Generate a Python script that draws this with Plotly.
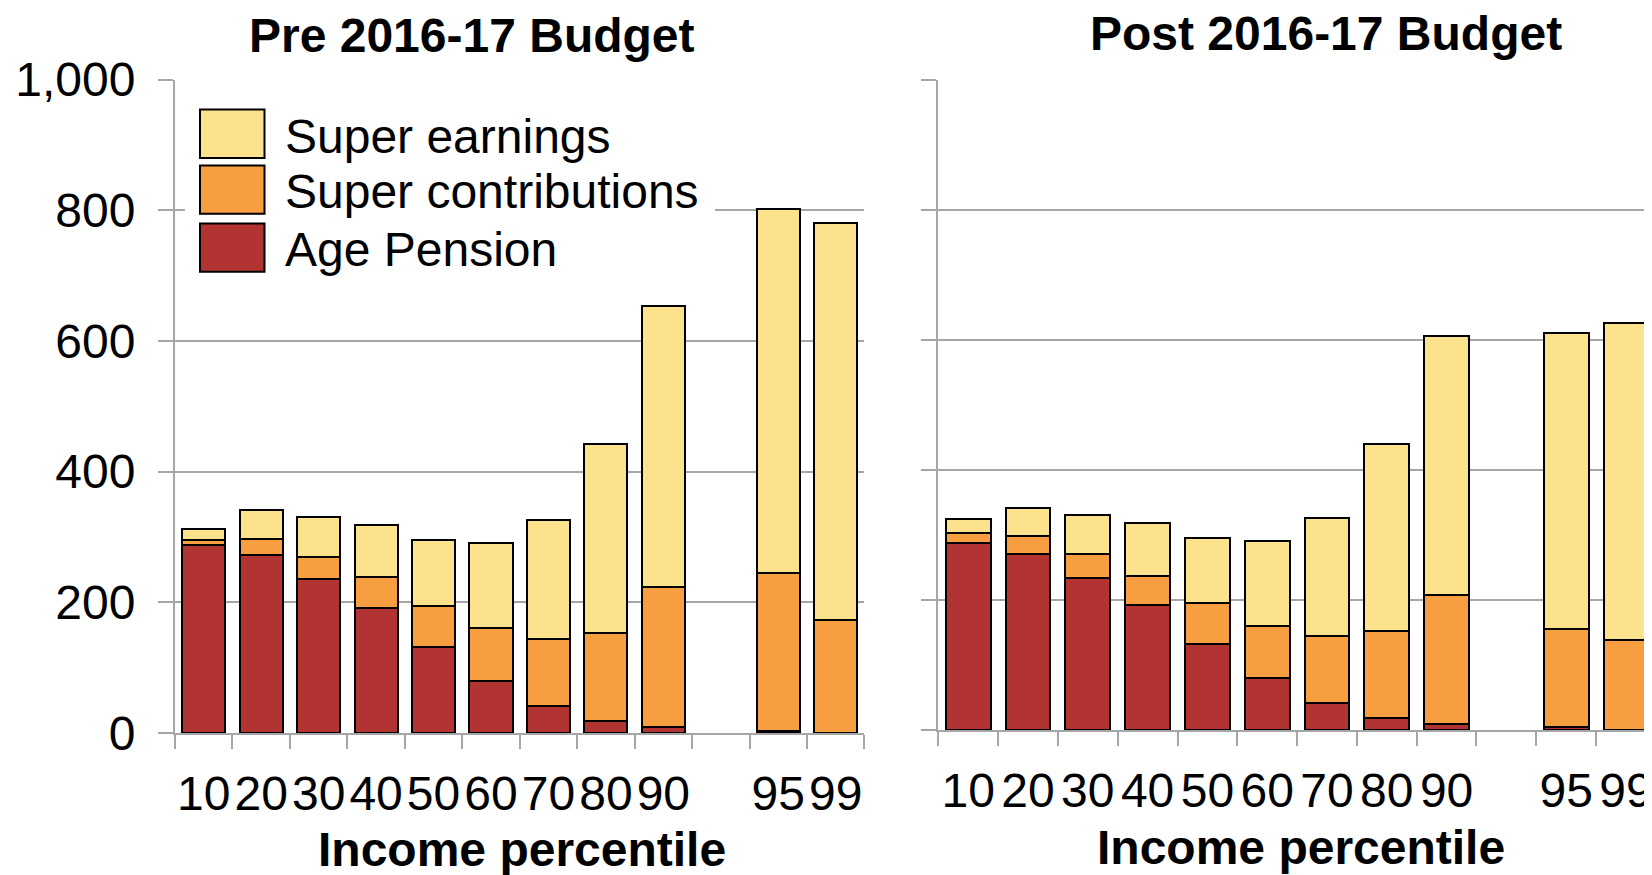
import plotly.graph_objects as go

# ---- data ----
categories = ["10", "20", "30", "40", "50", "60", "70", "80", "90", " ", "95", "99"]
series_names = ["Age Pension", "Super contributions", "Super earnings"]

pre_age_pension = [288, 272, 235, 192, 132, 80, 41, 18, 9, None, 3, 0]
pre_super_contrib = [8, 25, 35, 46, 62, 81, 103, 135, 214, None, 242, 173]
pre_super_earnings = [16, 44, 60, 80, 102, 129, 182, 289, 430, None, 557, 608]

post_age_pension = [287, 271, 234, 192, 132, 80, 42, 18, 9, None, 4, 0]
post_super_contrib = [16, 28, 37, 45, 63, 80, 103, 134, 199, None, 151, 138]
post_super_earnings = [21, 43, 59, 81, 100, 130, 181, 288, 397, None, 455, 488]

y_ticks = [0, 200, 400, 600, 800, 1000]
y_tick_labels = ["0", "200", "400", "600", "800", "1,000"]

panel_titles = ["Pre 2016-17 Budget", "Post 2016-17 Budget"]
x_title = "Income percentile"

# ---- style ----
# the page body has an 8px margin, so the figure is drawn 8px in from the window corner
OFF = 8
W, H = 1652 - OFF, 875 - OFF
FONT = "Liberation Sans, Arial, sans-serif"
colors = {"Age Pension": "#B13432", "Super contributions": "#F69E40", "Super earnings": "#FDE28E"}
GRID = "#A6A6A6"
FS = 48


def fx(px):
    return (px - OFF) / W


def fy(py):
    return 1 - (py - OFF) / H


fig = go.Figure()

for xa, ya, vals in [
    ("x", "y", [pre_age_pension, pre_super_contrib, pre_super_earnings]),
    ("x2", "y2", [post_age_pension, post_super_contrib, post_super_earnings]),
]:
    for name, v in zip(series_names, vals):
        fig.add_trace(go.Bar(
            x=categories, y=v, name=name, xaxis=xa, yaxis=ya,
            marker=dict(color=colors[name], line=dict(color="black", width=2)),
            showlegend=False,
        ))

xcommon = dict(
    type="category", categoryorder="array", categoryarray=categories,
    tickmode="linear", dtick=1, tickangle=0, automargin=False,
    tickson="boundaries", ticks="outside", ticklen=14, tickwidth=2, tickcolor=GRID,
    showline=True, linecolor=GRID, linewidth=2, showgrid=False, zeroline=False,
    tickfont=dict(family=FONT, size=FS, color="black"), ticklabelstandoff=17,
)
ycommon = dict(
    range=[0, 1000], tickvals=y_ticks, ticktext=y_tick_labels, automargin=False,
    ticks="outside", ticklen=15, tickwidth=2, tickcolor=GRID,
    showline=True, linecolor=GRID, linewidth=2,
    showgrid=True, gridcolor=GRID, gridwidth=2, zeroline=False,
    tickfont=dict(family=FONT, size=FS, color="black"),
)

fig.update_layout(
    template="none",
    width=W, height=H,
    margin=dict(l=0, r=0, t=0, b=0, autoexpand=False),
    paper_bgcolor="white", plot_bgcolor="white",
    barmode="stack", bargap=0.25,
    font=dict(family=FONT, color="black"),
    xaxis=dict(domain=[fx(175), fx(864.4)], range=[-0.5, 11.5], anchor="y", **xcommon),
    yaxis=dict(domain=[fy(733), fy(79.5)], anchor="x", ticklabelstandoff=13, **ycommon),
    xaxis2=dict(domain=[fx(938.3), 1.0], range=[-0.5, 11.435], anchor="y2", **xcommon),
    yaxis2=dict(domain=[fy(730), fy(79.5)], anchor="x2", showticklabels=False, **ycommon),
)

# panel titles and axis titles
annots = [
    dict(text="<b>%s</b>" % panel_titles[0], x=fx(472), y=fy(36)),
    dict(text="<b>%s</b>" % panel_titles[1], x=fx(1326), y=fy(34)),
    dict(text="<b>%s</b>" % x_title, x=fx(522), y=fy(849.5)),
    dict(text="<b>%s</b>" % x_title, x=fx(1301), y=fy(847)),
]
for a in annots:
    fig.add_annotation(xref="paper", yref="paper", showarrow=False,
                       xanchor="center", yanchor="middle",
                       font=dict(family=FONT, size=FS, color="black"), **a)

# custom legend (large swatches as in the original)
fig.add_shape(type="rect", xref="paper", yref="paper",
              x0=fx(185), x1=fx(715), y0=fy(95), y1=fy(285),
              fillcolor="white", line=dict(width=0), layer="above")
legend_items = ["Super earnings", "Super contributions", "Age Pension"]
sw_tops = [109.5, 165.4, 223.4]
for name, top in zip(legend_items, sw_tops):
    fig.add_shape(type="rect", xref="paper", yref="paper",
                  x0=fx(200), x1=fx(264.5), y0=fy(top), y1=fy(top + 48.4),
                  fillcolor=colors[name], line=dict(color="black", width=2), layer="above")
    fig.add_annotation(xref="paper", yref="paper", showarrow=False,
                       x=fx(283), y=fy(top + 26.5), xanchor="left", yanchor="middle",
                       text=name, font=dict(family=FONT, size=FS, color="black"))

fig.write_html("out.html")
